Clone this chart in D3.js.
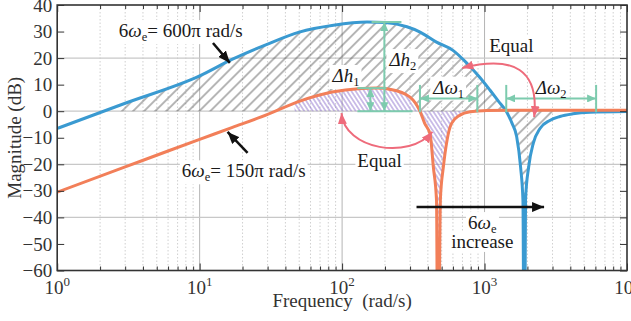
<!DOCTYPE html>
<html>
<head>
<meta charset="utf-8">
<script src="https://cdn.jsdelivr.net/npm/d3@7"></script>
<style>
  body { margin: 0; background: #fff; }
  svg { display: block; font-family: "Liberation Serif", "Times New Roman", serif; }
</style>
</head>
<body>
<svg id="chart" width="631" height="321"></svg>
<script>
// Bode magnitude of the two notch designs.
const blueW   = [1, 3, 10, 17, 30, 50, 87, 150, 200, 285, 350, 460, 600, 760, 918, 1090, 1250, 1430, 1560, 1680, 1790, 1860, 1900, 1940, 2040, 2200, 2450, 2870, 3380, 4170, 5500, 10000];
const blueMag = [-6.5, 3, 13.3, 19.6, 25.3, 29.8, 32.4, 33.6, 33.4, 31.8, 29.9, 26, 22.9, 17.8, 13, 8, 3.8, -0.3, -4.6, -9.5, -21, -33.6, -120, -33, -21, -12, -6.5, -3.5, -2, -1, -0.4, -0.1];
const orangeW   = [1, 3, 6.2, 10, 17, 30, 50, 85, 130, 175, 220, 298, 352, 380, 415, 437, 460, 471, 490, 514, 545, 587, 671, 792, 1040, 2000, 10000];
const orangeMag = [-30.5, -21, -14.7, -10.6, -6.1, -1.2, 3.7, 7.2, 8.5, 8.7, 8.2, 5.4, 0, -4.6, -8.7, -21, -33.6, -120, -33, -21, -11, -4.6, -1.5, -0.2, 0.3, 0.4, 0.4];
const xMajor = [1, 10, 100, 1000, 10000];
const xExp   = ["0", "1", "2", "3", "4"];
const yTicks = [-60, -50, -40, -30, -20, -10, 0, 10, 20, 30, 40];
const yGrid  = [-40, -20, 0, 20];
// hatched bands (rad/s): gray = blue vs 0 dB, purple = orange vs 0 dB
const grayBand   = [2.75, 1420, 3180];
const purpleBand = [46.4, 698];
const dw1 = [352, 890], dw2 = [1420, 6070];

const BLUE = "#3a9ad1", ORANGE = "#f27f59", GREEN = "#7dcbae", PINK = "#ee6b7b";
const FS = 19;

const svg = d3.select("#chart");
const m = { left: 57.2, top: 5 };
const iW = 627 - m.left, iH = 270.5 - m.top;
const x = d3.scaleLog([1, 1e4], [0, iW]);
const y = d3.scaleLinear([-60, 40], [iH, 0]);
const g = svg.append("g").attr("transform", `translate(${m.left},${m.top})`);
const defs = svg.append("defs");

const minor = d3.range(0, 4).flatMap((e) => d3.range(2, 10).map((k) => k * 10 ** e));

// grid
const gGrid = g.append("g");
gGrid.selectAll(".mn").data(minor).join("line")
  .attr("x1", (d) => x(d)).attr("x2", (d) => x(d)).attr("y1", 0).attr("y2", iH)
  .attr("stroke", "#c4c4c4").attr("stroke-width", 0.8).attr("stroke-dasharray", "1.5,2");
gGrid.selectAll(".mj").data(xMajor.slice(1, -1)).join("line")
  .attr("x1", (d) => x(d)).attr("x2", (d) => x(d)).attr("y1", 0).attr("y2", iH)
  .attr("stroke", "#b4b4b4").attr("stroke-width", 1);
gGrid.selectAll(".hz").data(yGrid).join("line")
  .attr("x1", 0).attr("x2", iW).attr("y1", (d) => y(d)).attr("y2", (d) => y(d))
  .attr("stroke", "#c8c8c8").attr("stroke-width", 1.2);

// clip + hatch patterns
defs.append("clipPath").attr("id", "plot").append("rect").attr("width", iW).attr("height", iH);
function band(id, a, b) {
  defs.append("clipPath").attr("id", id).append("rect")
    .attr("x", x(a)).attr("y", -20).attr("width", x(b) - x(a)).attr("height", iH + 40);
}
band("c-gray-up", grayBand[0], grayBand[1]);
band("c-gray-dn", grayBand[1], grayBand[2]);
band("c-purple", purpleBand[0], purpleBand[1]);

function hatch(id, color, gap, angle, sw) {
  defs.append("pattern").attr("id", id).attr("patternUnits", "userSpaceOnUse")
    .attr("width", gap).attr("height", gap).attr("patternTransform", `rotate(${angle})`)
    .append("line").attr("x1", gap / 2).attr("x2", gap / 2).attr("y1", -1).attr("y2", gap + 1)
    .attr("stroke", color).attr("stroke-width", sw);
}
hatch("h-gray", "#4a4a4a", 7.8, 45, 0.8);
hatch("h-purple", "#8466c9", 3.6, -33, 0.8);

const blue = blueW.map((w, i) => ({ w, v: blueMag[i] }));
const orange = orangeW.map((w, i) => ({ w, v: orangeMag[i] }));
const line = d3.line().x((d) => x(d.w)).y((d) => y(d.v)).curve(d3.curveMonotoneX);
const toZero = d3.area().x((d) => x(d.w)).y0(y(0)).y1((d) => y(d.v)).curve(d3.curveMonotoneX);
defs.append("clipPath").attr("id", "above-orange").append("path").datum(orange)
  .attr("d", d3.area().x((d) => x(d.w)).y0(-50).y1((d) => y(d.v)).curve(d3.curveMonotoneX));

const gHatch = g.append("g").attr("clip-path", "url(#plot)");
gHatch.append("g").attr("clip-path", "url(#c-gray-up)").append("path").datum(blue)
  .attr("clip-path", "url(#above-orange)").attr("d", toZero).attr("fill", "url(#h-gray)");
gHatch.append("g").attr("clip-path", "url(#c-gray-dn)").append("path").datum(blue)
  .attr("d", toZero).attr("fill", "url(#h-gray)");
gHatch.append("g").attr("clip-path", "url(#c-purple)").append("path").datum(orange)
  .attr("d", toZero).attr("fill", "url(#h-purple)");

const gBg = g.append("g");
const gCurves = g.append("g").attr("clip-path", "url(#plot)");
gCurves.append("path").datum(blue).attr("d", line).attr("fill", "none").attr("stroke", BLUE).attr("stroke-width", 3);
gCurves.append("path").datum(orange).attr("d", line).attr("fill", "none").attr("stroke", ORANGE).attr("stroke-width", 3);

// frame and ticks
const gFrame = g.append("g").attr("color", "#333");
const ax = (a) => a.tickSizeOuter(0).tickFormat("");
gFrame.append("g").attr("transform", `translate(0,${iH})`).call(ax(d3.axisBottom(x).tickValues(minor).tickSize(-4)));
gFrame.append("g").attr("transform", `translate(0,${iH})`).call(ax(d3.axisBottom(x).tickValues(xMajor).tickSize(-7)));
gFrame.append("g").call(ax(d3.axisTop(x).tickValues(minor).tickSize(-4)));
gFrame.append("g").call(ax(d3.axisTop(x).tickValues(xMajor).tickSize(-7)));
gFrame.append("g").attr("transform", `translate(${iW},0)`).call(ax(d3.axisRight(y).tickValues(yTicks).tickSize(-7)));
gFrame.append("g").call(d3.axisLeft(y).tickValues(yTicks).tickSize(-7).tickSizeOuter(0).tickPadding(5))
  .call((s) => s.selectAll("text").attr("font-size", FS).attr("font-family", "Liberation Serif").attr("fill", "#333"));
gFrame.selectAll(".domain").remove();
gFrame.append("rect").attr("width", iW).attr("height", iH).attr("fill", "none").attr("stroke", "#333").attr("stroke-width", 1.6);

const xl = g.append("g").selectAll("text").data(xMajor).join("text")
  .attr("x", (d) => x(d)).attr("y", iH + 23).attr("text-anchor", "middle").attr("font-size", FS).attr("fill", "#333");
xl.append("tspan").text("10");
xl.append("tspan").attr("dy", -8).attr("font-size", 13).text((d, i) => xExp[i]);

svg.append("text").attr("x", m.left + iW / 2).attr("y", 307).attr("text-anchor", "middle")
  .attr("font-size", FS).attr("fill", "#333").attr("xml:space", "preserve").text("Frequency  (rad/s)");
svg.append("text").attr("transform", `translate(21,${m.top + iH / 2}) rotate(-90)`).attr("text-anchor", "middle")
  .attr("font-size", FS).attr("fill", "#333").text("Magnitude (dB)");

// annotations (positioned in data units)
const gNote = g.append("g");
function marker(id, color, len, wid) {
  defs.append("marker").attr("id", id).attr("viewBox", `0 0 ${len} ${wid}`)
    .attr("refX", len).attr("refY", wid / 2).attr("markerWidth", len).attr("markerHeight", wid)
    .attr("markerUnits", "userSpaceOnUse").attr("orient", "auto-start-reverse")
    .append("path").attr("d", `M0,0L${len},${wid / 2}L0,${wid}Z`).attr("fill", color);
}
marker("a-black", "#111", 12, 10);
marker("a-green", GREEN, 9, 8);
marker("a-pink", PINK, 11, 9);

function label(w, db, parts, anchor) {
  const t = gNote.append("text").attr("x", x(w)).attr("y", y(db)).attr("text-anchor", anchor || "start")
    .attr("font-size", FS).attr("fill", "#1a1a1a");
  let shift = 0;
  parts.forEach(([s, st]) => {
    const sp = t.append("tspan").text(s);
    const want = st === "sub" ? 4 : 0;
    if (want !== shift) { sp.attr("dy", want - shift); shift = want; }
    if (st === "sub") sp.attr("font-size", 12.5);
    if (st === "i") sp.attr("font-style", "italic");
  });
  const b = t.node().getBBox();
  gBg.append("rect").attr("x", b.x - 2).attr("y", b.y).attr("width", b.width + 4).attr("height", b.height).attr("fill", "#fff");
  return t;
}
const seg = (a, b, color, sw, head) => gNote.append("line")
  .attr("x1", x(a[0])).attr("y1", y(a[1])).attr("x2", x(b[0])).attr("y2", y(b[1]))
  .attr("stroke", color).attr("stroke-width", sw)
  .attr("marker-end", head ? `url(#${head})` : null).attr("marker-start", head === "a-green" ? "url(#a-green)" : null);

label(2.71, 27.9, [["6"], ["ω", "i"], ["e", "sub"], ["= 600π rad/s"]]);
label(7.5, -24.9, [["6"], ["ω", "i"], ["e", "sub"], ["= 150π rad/s"]]);
seg([12.4, 25.7], [16.3, 18.2], "#111", 2.5, "a-black");
seg([21.7, -15.7], [15.7, -7.8], "#111", 2.5, "a-black");

const peakB = d3.max(blueMag), peakO = d3.max(orangeMag);
seg([161, peakB], [261, peakB], GREEN, 2);
seg([128, 0], [312, 0], GREEN, 2);
seg([128, peakO], [205, peakO], GREEN, 2);
seg([198, peakB], [198, 0], GREEN, 2, "a-green");
seg([158, peakO], [158, 0], GREEN, 2, "a-green");
label(85.7, 11, [["Δh", "i"], ["1", "sub"]]);
label(215, 17, [["Δh", "i"], ["2", "sub"]]);

[dw1, dw2].forEach((d, k) => {
  d.forEach((w) => seg([w, 9.9], [w, -0.4], GREEN, 2));
  seg([d[0], 4.8], [d[1], 4.8], GREEN, 2, "a-green");
  label(Math.sqrt(d[0] * d[1]), 6.6, [["Δω", "i"], [String(k + 1), "sub"]], "middle");
});

label(128, -21, [["Equal"]]);
label(1079, 22.3, [["Equal"]]);
const P = (w, db) => [x(w), y(db)];
function curveArrow(p0, p1, p2, p3) {
  const p = d3.path();
  p.moveTo(...P(...p0)); p.bezierCurveTo(...P(...p1), ...P(...p2), ...P(...p3));
  gNote.append("path").attr("d", p.toString()).attr("fill", "none").attr("stroke", PINK).attr("stroke-width", 2)
    .attr("marker-start", "url(#a-pink)").attr("marker-end", "url(#a-pink)");
}
curveArrow([99, -0.7], [104, -14.6], [297, -18.4], [430, -7.8]);
curveArrow([698, 16.3], [1615, 21.2], [2417, 15.5], [2230, -2.2]);

label(964, -44.4, [["6"], ["ω", "i"], ["e", "sub"]], "middle");
label(964, -51.5, [["increase"]], "middle");
seg([333, -36.1], [2618, -36.1], "#111", 2.5, "a-black");
</script>
</body>
</html>
